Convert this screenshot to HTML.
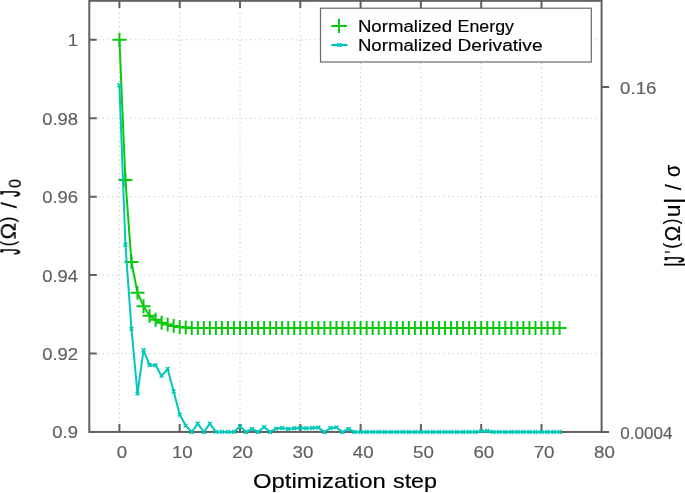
<!DOCTYPE html>
<html><head><meta charset="utf-8"><title>Optimization</title>
<style>html,body{margin:0;padding:0;background:#fff}svg{display:block}g.t{will-change:opacity}text{font-family:"Liberation Sans",sans-serif;font-kerning:none}</style>
</head><body>
<svg width="685" height="493" viewBox="0 0 685 493">
<rect width="685" height="493" fill="#fff"/>
<g stroke="#bababa" stroke-width="1" stroke-dasharray="1 3.6" fill="none">
<path d="M89.3 353.52H601.6"/>
<path d="M89.3 275.09H601.6"/>
<path d="M89.3 196.66H601.6"/>
<path d="M89.3 118.23H601.6"/>
<path d="M89.3 39.80H601.6"/>
<path d="M119.40 431.95V0.8"/>
<path d="M179.70 431.95V0.8"/>
<path d="M240.00 431.95V0.8"/>
<path d="M300.30 431.95V0.8"/>
<path d="M360.60 431.95V0.8"/>
<path d="M420.90 431.95V0.8"/>
<path d="M481.20 431.95V0.8"/>
<path d="M541.50 431.95V0.8"/>
</g>
<g stroke="#606060" stroke-width="2" fill="none">
<rect x="89.3" y="0.8" width="512.30" height="431.15"/>
<path d="M119.40 431.95v-8M119.40 0.8V7.9M179.70 431.95v-8M179.70 0.8V7.9M240.00 431.95v-8M240.00 0.8V7.9M300.30 431.95v-8M300.30 0.8V7.9M360.60 431.95v-8M360.60 0.8V7.9M420.90 431.95v-8M420.90 0.8V7.9M481.20 431.95v-8M481.20 0.8V7.9M541.50 431.95v-8M541.50 0.8V7.9M89.3 431.95h7.5M89.3 353.52h7.5M89.3 275.09h7.5M89.3 196.66h7.5M89.3 118.23h7.5M89.3 39.80h7.5M601.6 86.9h7.5M601.6 431.95h7.5"/>
</g>
<g stroke="#08c810" stroke-width="2" fill="none" stroke-linejoin="round">
<polyline points="119.40,39.85 125.43,180.10 131.46,262.10 137.49,292.70 143.52,306.20 149.55,315.80 155.58,319.80 161.61,322.70 167.64,324.60 173.67,326.10 179.70,327.00 185.73,327.60 191.76,327.95 197.79,327.95 203.82,327.95 209.85,327.95 215.88,327.95 221.91,327.95 227.94,327.95 233.97,327.95 240.00,327.95 246.03,327.95 252.06,327.95 258.09,327.95 264.12,327.95 270.15,327.95 276.18,327.95 282.21,327.95 288.24,327.95 294.27,327.95 300.30,327.95 306.33,327.95 312.36,327.95 318.39,327.95 324.42,327.95 330.45,327.95 336.48,327.95 342.51,327.95 348.54,327.95 354.57,327.95 360.60,327.95 366.63,327.95 372.66,327.95 378.69,327.95 384.72,327.95 390.75,327.95 396.78,327.95 402.81,327.95 408.84,327.95 414.87,327.95 420.90,327.95 426.93,327.95 432.96,327.95 438.99,327.95 445.02,327.95 451.05,327.95 457.08,327.95 463.11,327.95 469.14,327.95 475.17,327.95 481.20,327.95 487.23,327.95 493.26,327.95 499.29,327.95 505.32,327.95 511.35,327.95 517.38,327.95 523.41,327.95 529.44,327.95 535.47,327.95 541.50,327.95 547.53,327.95 553.56,327.95 559.59,327.95"/>
<path d="M112.40 39.85h14.0M119.40 32.85v14.0M118.43 180.10h14.0M125.43 173.10v14.0M124.46 262.10h14.0M131.46 255.10v14.0M130.49 292.70h14.0M137.49 285.70v14.0M136.52 306.20h14.0M143.52 299.20v14.0M142.55 315.80h14.0M149.55 308.80v14.0M148.58 319.80h14.0M155.58 312.80v14.0M154.61 322.70h14.0M161.61 315.70v14.0M160.64 324.60h14.0M167.64 317.60v14.0M166.67 326.10h14.0M173.67 319.10v14.0M172.70 327.00h14.0M179.70 320.00v14.0M178.73 327.60h14.0M185.73 320.60v14.0M184.76 327.95h14.0M191.76 320.95v14.0M190.79 327.95h14.0M197.79 320.95v14.0M196.82 327.95h14.0M203.82 320.95v14.0M202.85 327.95h14.0M209.85 320.95v14.0M208.88 327.95h14.0M215.88 320.95v14.0M214.91 327.95h14.0M221.91 320.95v14.0M220.94 327.95h14.0M227.94 320.95v14.0M226.97 327.95h14.0M233.97 320.95v14.0M233.00 327.95h14.0M240.00 320.95v14.0M239.03 327.95h14.0M246.03 320.95v14.0M245.06 327.95h14.0M252.06 320.95v14.0M251.09 327.95h14.0M258.09 320.95v14.0M257.12 327.95h14.0M264.12 320.95v14.0M263.15 327.95h14.0M270.15 320.95v14.0M269.18 327.95h14.0M276.18 320.95v14.0M275.21 327.95h14.0M282.21 320.95v14.0M281.24 327.95h14.0M288.24 320.95v14.0M287.27 327.95h14.0M294.27 320.95v14.0M293.30 327.95h14.0M300.30 320.95v14.0M299.33 327.95h14.0M306.33 320.95v14.0M305.36 327.95h14.0M312.36 320.95v14.0M311.39 327.95h14.0M318.39 320.95v14.0M317.42 327.95h14.0M324.42 320.95v14.0M323.45 327.95h14.0M330.45 320.95v14.0M329.48 327.95h14.0M336.48 320.95v14.0M335.51 327.95h14.0M342.51 320.95v14.0M341.54 327.95h14.0M348.54 320.95v14.0M347.57 327.95h14.0M354.57 320.95v14.0M353.60 327.95h14.0M360.60 320.95v14.0M359.63 327.95h14.0M366.63 320.95v14.0M365.66 327.95h14.0M372.66 320.95v14.0M371.69 327.95h14.0M378.69 320.95v14.0M377.72 327.95h14.0M384.72 320.95v14.0M383.75 327.95h14.0M390.75 320.95v14.0M389.78 327.95h14.0M396.78 320.95v14.0M395.81 327.95h14.0M402.81 320.95v14.0M401.84 327.95h14.0M408.84 320.95v14.0M407.87 327.95h14.0M414.87 320.95v14.0M413.90 327.95h14.0M420.90 320.95v14.0M419.93 327.95h14.0M426.93 320.95v14.0M425.96 327.95h14.0M432.96 320.95v14.0M431.99 327.95h14.0M438.99 320.95v14.0M438.02 327.95h14.0M445.02 320.95v14.0M444.05 327.95h14.0M451.05 320.95v14.0M450.08 327.95h14.0M457.08 320.95v14.0M456.11 327.95h14.0M463.11 320.95v14.0M462.14 327.95h14.0M469.14 320.95v14.0M468.17 327.95h14.0M475.17 320.95v14.0M474.20 327.95h14.0M481.20 320.95v14.0M480.23 327.95h14.0M487.23 320.95v14.0M486.26 327.95h14.0M493.26 320.95v14.0M492.29 327.95h14.0M499.29 320.95v14.0M498.32 327.95h14.0M505.32 320.95v14.0M504.35 327.95h14.0M511.35 320.95v14.0M510.38 327.95h14.0M517.38 320.95v14.0M516.41 327.95h14.0M523.41 320.95v14.0M522.44 327.95h14.0M529.44 320.95v14.0M528.47 327.95h14.0M535.47 320.95v14.0M534.50 327.95h14.0M541.50 320.95v14.0M540.53 327.95h14.0M547.53 320.95v14.0M546.56 327.95h14.0M553.56 320.95v14.0M552.59 327.95h14.0M559.59 320.95v14.0"/>
</g>
<g stroke="#00c8b8" stroke-width="2" fill="none" stroke-linejoin="round">
<polyline points="119.40,85.30 125.43,244.70 131.46,328.90 137.49,393.50 143.52,350.20 149.55,365.00 155.58,365.30 161.61,375.90 167.64,368.90 173.67,391.40 179.70,414.60 185.73,425.60 191.76,432.00 197.79,423.60 203.82,432.00 209.85,423.60 215.88,431.90 221.91,431.90 227.94,431.90 233.97,431.90 240.00,426.50 246.03,432.00 252.06,429.00 258.09,432.00 264.12,427.00 270.15,432.00 276.18,428.60 282.21,428.00 288.24,429.00 294.27,428.20 300.30,428.00 306.33,428.20 312.36,428.00 318.39,427.60 324.42,432.10 330.45,428.00 336.48,427.40 342.51,432.10 348.54,429.00 354.57,432.00 360.60,431.95 366.63,431.95 372.66,431.95 378.69,431.95 384.72,431.95 390.75,431.95 396.78,431.95 402.81,431.95 408.84,431.95 414.87,431.95 420.90,431.95 426.93,431.95 432.96,431.95 438.99,431.95 445.02,431.95 451.05,431.95 457.08,431.95 463.11,431.95 469.14,431.95 475.17,431.95 481.20,431.15 487.23,431.05 493.26,431.95 499.29,431.95 505.32,431.95 511.35,431.95 517.38,431.95 523.41,431.95 529.44,431.95 535.47,431.95 541.50,431.95 547.53,431.95 553.56,431.95 559.59,431.95"/>
<path d="M117.50 83.40l3.8 3.8M117.50 87.20l3.8 -3.8M123.53 242.80l3.8 3.8M123.53 246.60l3.8 -3.8M129.56 327.00l3.8 3.8M129.56 330.80l3.8 -3.8M135.59 391.60l3.8 3.8M135.59 395.40l3.8 -3.8M141.62 348.30l3.8 3.8M141.62 352.10l3.8 -3.8M147.65 363.10l3.8 3.8M147.65 366.90l3.8 -3.8M153.68 363.40l3.8 3.8M153.68 367.20l3.8 -3.8M159.71 374.00l3.8 3.8M159.71 377.80l3.8 -3.8M165.74 367.00l3.8 3.8M165.74 370.80l3.8 -3.8M171.77 389.50l3.8 3.8M171.77 393.30l3.8 -3.8M177.80 412.70l3.8 3.8M177.80 416.50l3.8 -3.8M183.83 423.70l3.8 3.8M183.83 427.50l3.8 -3.8M189.86 430.10l3.8 3.8M189.86 433.90l3.8 -3.8M195.89 421.70l3.8 3.8M195.89 425.50l3.8 -3.8M201.92 430.10l3.8 3.8M201.92 433.90l3.8 -3.8M207.95 421.70l3.8 3.8M207.95 425.50l3.8 -3.8M213.98 430.00l3.8 3.8M213.98 433.80l3.8 -3.8M220.01 430.00l3.8 3.8M220.01 433.80l3.8 -3.8M226.04 430.00l3.8 3.8M226.04 433.80l3.8 -3.8M232.07 430.00l3.8 3.8M232.07 433.80l3.8 -3.8M238.10 424.60l3.8 3.8M238.10 428.40l3.8 -3.8M244.13 430.10l3.8 3.8M244.13 433.90l3.8 -3.8M250.16 427.10l3.8 3.8M250.16 430.90l3.8 -3.8M256.19 430.10l3.8 3.8M256.19 433.90l3.8 -3.8M262.22 425.10l3.8 3.8M262.22 428.90l3.8 -3.8M268.25 430.10l3.8 3.8M268.25 433.90l3.8 -3.8M274.28 426.70l3.8 3.8M274.28 430.50l3.8 -3.8M280.31 426.10l3.8 3.8M280.31 429.90l3.8 -3.8M286.34 427.10l3.8 3.8M286.34 430.90l3.8 -3.8M292.37 426.30l3.8 3.8M292.37 430.10l3.8 -3.8M298.40 426.10l3.8 3.8M298.40 429.90l3.8 -3.8M304.43 426.30l3.8 3.8M304.43 430.10l3.8 -3.8M310.46 426.10l3.8 3.8M310.46 429.90l3.8 -3.8M316.49 425.70l3.8 3.8M316.49 429.50l3.8 -3.8M322.52 430.20l3.8 3.8M322.52 434.00l3.8 -3.8M328.55 426.10l3.8 3.8M328.55 429.90l3.8 -3.8M334.58 425.50l3.8 3.8M334.58 429.30l3.8 -3.8M340.61 430.20l3.8 3.8M340.61 434.00l3.8 -3.8M346.64 427.10l3.8 3.8M346.64 430.90l3.8 -3.8M352.67 430.10l3.8 3.8M352.67 433.90l3.8 -3.8M358.70 430.05l3.8 3.8M358.70 433.85l3.8 -3.8M364.73 430.05l3.8 3.8M364.73 433.85l3.8 -3.8M370.76 430.05l3.8 3.8M370.76 433.85l3.8 -3.8M376.79 430.05l3.8 3.8M376.79 433.85l3.8 -3.8M382.82 430.05l3.8 3.8M382.82 433.85l3.8 -3.8M388.85 430.05l3.8 3.8M388.85 433.85l3.8 -3.8M394.88 430.05l3.8 3.8M394.88 433.85l3.8 -3.8M400.91 430.05l3.8 3.8M400.91 433.85l3.8 -3.8M406.94 430.05l3.8 3.8M406.94 433.85l3.8 -3.8M412.97 430.05l3.8 3.8M412.97 433.85l3.8 -3.8M419.00 430.05l3.8 3.8M419.00 433.85l3.8 -3.8M425.03 430.05l3.8 3.8M425.03 433.85l3.8 -3.8M431.06 430.05l3.8 3.8M431.06 433.85l3.8 -3.8M437.09 430.05l3.8 3.8M437.09 433.85l3.8 -3.8M443.12 430.05l3.8 3.8M443.12 433.85l3.8 -3.8M449.15 430.05l3.8 3.8M449.15 433.85l3.8 -3.8M455.18 430.05l3.8 3.8M455.18 433.85l3.8 -3.8M461.21 430.05l3.8 3.8M461.21 433.85l3.8 -3.8M467.24 430.05l3.8 3.8M467.24 433.85l3.8 -3.8M473.27 430.05l3.8 3.8M473.27 433.85l3.8 -3.8M479.30 429.25l3.8 3.8M479.30 433.05l3.8 -3.8M485.33 429.15l3.8 3.8M485.33 432.95l3.8 -3.8M491.36 430.05l3.8 3.8M491.36 433.85l3.8 -3.8M497.39 430.05l3.8 3.8M497.39 433.85l3.8 -3.8M503.42 430.05l3.8 3.8M503.42 433.85l3.8 -3.8M509.45 430.05l3.8 3.8M509.45 433.85l3.8 -3.8M515.48 430.05l3.8 3.8M515.48 433.85l3.8 -3.8M521.51 430.05l3.8 3.8M521.51 433.85l3.8 -3.8M527.54 430.05l3.8 3.8M527.54 433.85l3.8 -3.8M533.57 430.05l3.8 3.8M533.57 433.85l3.8 -3.8M539.60 430.05l3.8 3.8M539.60 433.85l3.8 -3.8M545.63 430.05l3.8 3.8M545.63 433.85l3.8 -3.8M551.66 430.05l3.8 3.8M551.66 433.85l3.8 -3.8M557.69 430.05l3.8 3.8M557.69 433.85l3.8 -3.8" stroke-width="1.5"/>
</g>
<rect x="320.5" y="8.2" width="270.8" height="53.8" fill="#fff" stroke="#686868" stroke-width="1.2"/>
<path d="M331.2 25.9h15.8M339 18.8v14.2" stroke="#08c810" stroke-width="2" fill="none"/>
<path d="M331.2 45h16.3" stroke="#00c8b8" stroke-width="2" fill="none"/>
<path d="M337.3 43.1l3.8 3.8M337.3 46.9l3.8 -3.8" stroke="#00c8b8" stroke-width="1.5" fill="none"/>
<g class="t">
<g font-size="17.3" fill="#000" stroke="#000" stroke-width="0.18">
<text x="357.92" y="31.95" textLength="94.13" lengthAdjust="spacingAndGlyphs">Normalized</text>
<text x="457.59" y="31.95" textLength="56.39" lengthAdjust="spacingAndGlyphs">Energy</text>
<text x="357.92" y="50.9" textLength="94.13" lengthAdjust="spacingAndGlyphs">Normalized</text>
<text x="457.48" y="50.9" textLength="85.12" lengthAdjust="spacingAndGlyphs">Derivative</text>
</g>
<g font-size="17.4" fill="#606060" stroke="#606060" stroke-width="0.18">
<text x="116.80" y="457.9" textLength="10.40" lengthAdjust="spacingAndGlyphs">0</text>
<text x="171.90" y="457.9" textLength="20.80" lengthAdjust="spacingAndGlyphs">10</text>
<text x="232.20" y="457.9" textLength="20.80" lengthAdjust="spacingAndGlyphs">20</text>
<text x="292.50" y="457.9" textLength="20.80" lengthAdjust="spacingAndGlyphs">30</text>
<text x="352.80" y="457.9" textLength="20.80" lengthAdjust="spacingAndGlyphs">40</text>
<text x="413.10" y="457.9" textLength="20.80" lengthAdjust="spacingAndGlyphs">50</text>
<text x="473.40" y="457.9" textLength="20.80" lengthAdjust="spacingAndGlyphs">60</text>
<text x="533.70" y="457.9" textLength="20.80" lengthAdjust="spacingAndGlyphs">70</text>
<text x="594.00" y="457.9" textLength="20.80" lengthAdjust="spacingAndGlyphs">80</text>
<text x="52.39" y="438.45" textLength="25.61" lengthAdjust="spacingAndGlyphs">0.9</text>
<text x="42.15" y="360.02" textLength="35.85" lengthAdjust="spacingAndGlyphs">0.92</text>
<text x="42.15" y="281.59" textLength="35.85" lengthAdjust="spacingAndGlyphs">0.94</text>
<text x="42.15" y="203.16" textLength="35.85" lengthAdjust="spacingAndGlyphs">0.96</text>
<text x="42.15" y="124.73" textLength="35.85" lengthAdjust="spacingAndGlyphs">0.98</text>
<text x="67.76" y="46.30" textLength="10.24" lengthAdjust="spacingAndGlyphs">1</text>
<text x="620.1" y="93.6" textLength="36.4" lengthAdjust="spacingAndGlyphs">0.16</text>
<text x="620.3" y="438.95" textLength="52.2" lengthAdjust="spacingAndGlyphs">0.0004</text>
</g>
<g font-size="21.2" fill="#000" stroke="#000" stroke-width="0.18">
<text x="253.02" y="487.6" textLength="132.68" lengthAdjust="spacingAndGlyphs" font-size="20.7">Optimization</text>
<text x="393.00" y="487.6" textLength="44.03" lengthAdjust="spacingAndGlyphs" font-size="20.7">step</text>
<g transform="translate(15.7 256) rotate(-90)"><g transform="translate(0 4.3) scale(1 1.29)" stroke-width="0.7"><text x="1.47" textLength="5.85" lengthAdjust="spacingAndGlyphs">J</text></g><text x="9.84" textLength="5.40" lengthAdjust="spacingAndGlyphs" y="-1.4" font-size="19.6">(</text><text x="16.50" textLength="16.71" lengthAdjust="spacingAndGlyphs">Ω</text><text x="33.55" textLength="5.90" lengthAdjust="spacingAndGlyphs" y="-1.4" font-size="19.6">)</text><text x="47.65" textLength="6.10" lengthAdjust="spacingAndGlyphs" y="1.2">/</text><g transform="translate(0 4.3) scale(1 1.29)" stroke-width="0.7"><text x="59.25" textLength="6.40" lengthAdjust="spacingAndGlyphs">J</text></g><text x="67.92" textLength="8.96" lengthAdjust="spacingAndGlyphs" y="5" font-size="17.3">0</text></g>
<g transform="translate(679.7 267) rotate(-90)"><text x="-0.63" textLength="5.77" lengthAdjust="spacingAndGlyphs">|</text><g transform="translate(0 4.3) scale(1 1.29)" stroke-width="0.7"><text x="4.56" textLength="6.10" lengthAdjust="spacingAndGlyphs">J</text></g><text x="13.42" textLength="2.76" lengthAdjust="spacingAndGlyphs">'</text><text x="18.25" textLength="5.90" lengthAdjust="spacingAndGlyphs" y="-1.4" font-size="19.6">(</text><text x="25.45" textLength="15.81" lengthAdjust="spacingAndGlyphs">Ω</text><text x="42.85" textLength="5.40" lengthAdjust="spacingAndGlyphs" y="-1.4" font-size="19.6">)</text><text x="49.65" textLength="12.83" lengthAdjust="spacingAndGlyphs">u</text><text x="63.05" textLength="6.41" lengthAdjust="spacingAndGlyphs">|</text><text x="76.85" textLength="5.90" lengthAdjust="spacingAndGlyphs" y="1.2">/</text><text x="90.12" textLength="12.23" lengthAdjust="spacingAndGlyphs">σ</text></g>
</g>
</g>
</svg>
</body></html>
